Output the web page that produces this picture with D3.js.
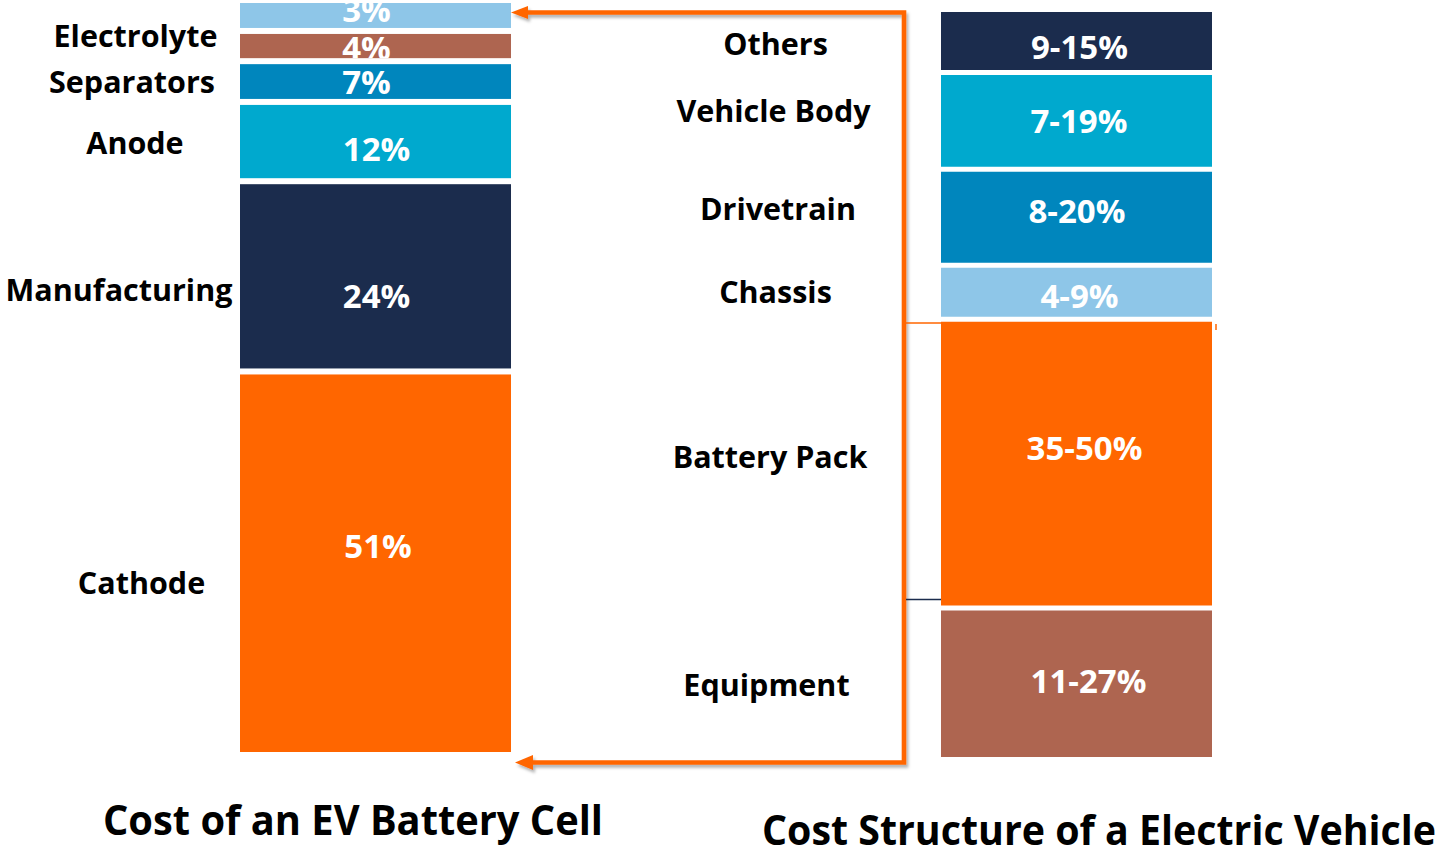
<!DOCTYPE html>
<html><head><meta charset="utf-8">
<script src="https://cdn.jsdelivr.net/npm/d3@7"></script>
<style>html,body{margin:0;padding:0;background:#fff;overflow:hidden}</style>
</head><body><svg id="chart" width="1439" height="849"></svg>
<script>
// ---------- DATA (bottom -> top) ----------
// Left bar: cost of an EV battery cell
const cellCategories = ["Cathode", "Manufacturing", "Anode", "Separators", "Electrolyte", "Other"];
const cellLabels     = ["51%", "24%", "12%", "7%", "4%", "3%"];
const cellCategoryText = ["Cathode", "Manufacturing", "Anode", "Separators", "Electrolyte", ""];
// share of the bar height each block takes in the picture (%)
const cellDrawnShare = [50.8, 25.2, 10.5, 5.4, 4.0, 4.1];

// Right bar: cost structure of an electric vehicle
const evCategories = ["Equipment", "Battery Pack", "Chassis", "Drivetrain", "Vehicle Body", "Others"];
const evLabels     = ["11-27%", "35-50%", "4-9%", "8-20%", "7-19%", "9-15%"];
const evDrawnShare = [20.2, 38.5, 7.2, 12.8, 12.9, 8.4];

const barKeys   = ["cell", "ev"];
const barTitles = ["Cost of an EV Battery Cell", "Cost Structure of a Electric Vehicle"];

// ---------- STYLE / LAYOUT ----------
const C = {navy: "#1B2C4D", cyan: "#00A9CE", blue: "#0086BD", light: "#8EC6E8", brown: "#AE6550", orange: "#FF6600"};
const cellColors = {Cathode: C.orange, Manufacturing: C.navy, Anode: C.cyan, Separators: C.blue, Electrolyte: C.brown, Other: C.light};
const evColors = {Equipment: C.brown, "Battery Pack": C.orange, Chassis: C.light, Drivetrain: C.blue, "Vehicle Body": C.cyan, Others: C.navy};

const layout = {
  cell: {
    range: [755, 0], gap: 6,
    catX:  {Cathode: 141.5, Manufacturing: 119, Anode: 135, Separators: 132, Electrolyte: 135.5, Other: 135},
    catDy: {Cathode: 20, Manufacturing: 14, Anode: 1.5, Separators: 0.5, Electrolyte: -10, Other: 0},
    valDx: {Cathode: 2.5, Manufacturing: 1, Anode: 1, Separators: -9, Electrolyte: -9, Other: -9},
    valDy: {Cathode: -17, Manufacturing: 20, Anode: 8, Separators: 1, Electrolyte: 2, Other: -5.5}
  },
  ev: {
    range: [759.5, 9.5], gap: 5,
    catX:  {Equipment: 766.5, "Battery Pack": 770, Chassis: 775.5, Drivetrain: 778, "Vehicle Body": 773.5, Others: 775.5},
    catDy: {Equipment: 1, "Battery Pack": -6.6, Chassis: 0, Drivetrain: -8, "Vehicle Body": -10, Others: 3},
    valDx: {Equipment: 12, "Battery Pack": 8, Chassis: 3, Drivetrain: 0.5, "Vehicle Body": 2.5, Others: 3},
    valDy: {Equipment: -3, "Battery Pack": -15.6, Chassis: 4, Drivetrain: -6, "Vehicle Body": 0, Others: 6.5}
  }
};

const FONT = "'Open Sans', 'Noto Sans', sans-serif";
const catFs = 30.5, valFs = 33, titleFs = 42;
const capHalf = fs => 0.357 * fs;

const svg = d3.select("#chart");
const defs = svg.append("defs");
const f = defs.append("filter").attr("id", "shadow").attr("x", "-10%").attr("y", "-10%").attr("width", "130%").attr("height", "130%");
f.append("feDropShadow").attr("dx", 2).attr("dy", 3).attr("stdDeviation", 1.6)
  .attr("flood-color", "#000").attr("flood-opacity", 0.3);

const x = d3.scaleBand().domain(barKeys).range([240, 1212]).paddingInner(0.6134).paddingOuter(0);

function drawBar(key, cats, labels, catText, shares, colors) {
  const L = layout[key];
  const y = d3.scaleLinear().domain([0, 100]).range(L.range);
  let cum = 0;
  const rows = cats.map((c, i) => {
    const r = {cat: c, label: labels[i], text: catText[i], y0: cum, y1: cum + shares[i], id: key + "-clip-" + i};
    cum += shares[i];
    return r;
  });
  const g = svg.append("g");
  const x0 = x(key), bw = x.bandwidth();
  const ry = d => y(d.y1) + L.gap / 2;
  const rh = d => y(d.y0) - y(d.y1) - L.gap;
  // clip paths: white labels are only visible inside their block (as in the reference)
  defs.selectAll("clipPath." + key).data(rows).join("clipPath").attr("class", key)
    .attr("id", d => d.id)
    .append("rect").attr("x", x0).attr("width", bw).attr("y", ry).attr("height", rh);
  g.selectAll("rect").data(rows).join("rect")
    .attr("x", x0).attr("width", bw)
    .attr("y", ry).attr("height", rh)
    .attr("fill", d => colors[d.cat]);
  const mid = d => (y(d.y0) + y(d.y1)) / 2;
  g.selectAll("text.val").data(rows).join("text").attr("class", "val")
    .attr("clip-path", d => `url(#${d.id})`)
    .attr("x", d => x0 + bw / 2 + L.valDx[d.cat])
    .attr("y", d => mid(d) + L.valDy[d.cat] + capHalf(valFs))
    .attr("text-anchor", "middle")
    .attr("font-family", FONT).attr("font-weight", 700).attr("font-size", valFs)
    .attr("fill", "#fff").text(d => d.label);
  g.selectAll("text.cat").data(rows.filter(d => d.text)).join("text").attr("class", "cat")
    .attr("x", d => L.catX[d.cat])
    .attr("y", d => mid(d) + L.catDy[d.cat] + capHalf(catFs))
    .attr("text-anchor", "middle")
    .attr("font-family", FONT).attr("font-weight", 700).attr("font-size", catFs)
    .attr("fill", "#000").text(d => d.text);
  return y;
}

// connectors (drawn first so bars sit above)
const conn = svg.append("g");
const arrowG = conn.append("g").attr("filter", "url(#shadow)");
arrowG.append("path")
  .attr("d", "M527,12.5 H904 V762.5 H531")
  .attr("fill", "none").attr("stroke", C.orange).attr("stroke-width", 4.6).attr("stroke-linejoin", "miter");
arrowG.append("path").attr("d", "M511,12.5 L528,6 L528,19 Z").attr("fill", C.orange);
arrowG.append("path").attr("d", "M515,762.5 L533,755 L533,770 Z").attr("fill", C.orange);
conn.append("line").attr("x1", 906).attr("x2", 941).attr("y1", 323).attr("y2", 323)
  .attr("stroke", C.orange).attr("stroke-width", 1.5);
conn.append("line").attr("x1", 906).attr("x2", 941).attr("y1", 599.5).attr("y2", 599.5)
  .attr("stroke", C.navy).attr("stroke-width", 1.5);
conn.append("line").attr("x1", 1216).attr("x2", 1216).attr("y1", 324).attr("y2", 330)
  .attr("stroke", C.orange).attr("stroke-width", 1.5);

drawBar("cell", cellCategories, cellLabels, cellCategoryText, cellDrawnShare, cellColors);
drawBar("ev", evCategories, evLabels, evCategories, evDrawnShare, evColors);

// titles
const titlePos = [{x: 103, y: 835, len: 500}, {x: 762, y: 845, len: 674}];
svg.selectAll("text.title").data(barTitles).join("text").attr("class", "title")
  .attr("x", (d, i) => titlePos[i].x).attr("y", (d, i) => titlePos[i].y)
  .attr("textLength", (d, i) => titlePos[i].len).attr("lengthAdjust", "spacingAndGlyphs")
  .attr("font-family", FONT).attr("font-weight", 700).attr("font-size", titleFs)
  .attr("fill", "#000").text(d => d);
</script></body></html>
